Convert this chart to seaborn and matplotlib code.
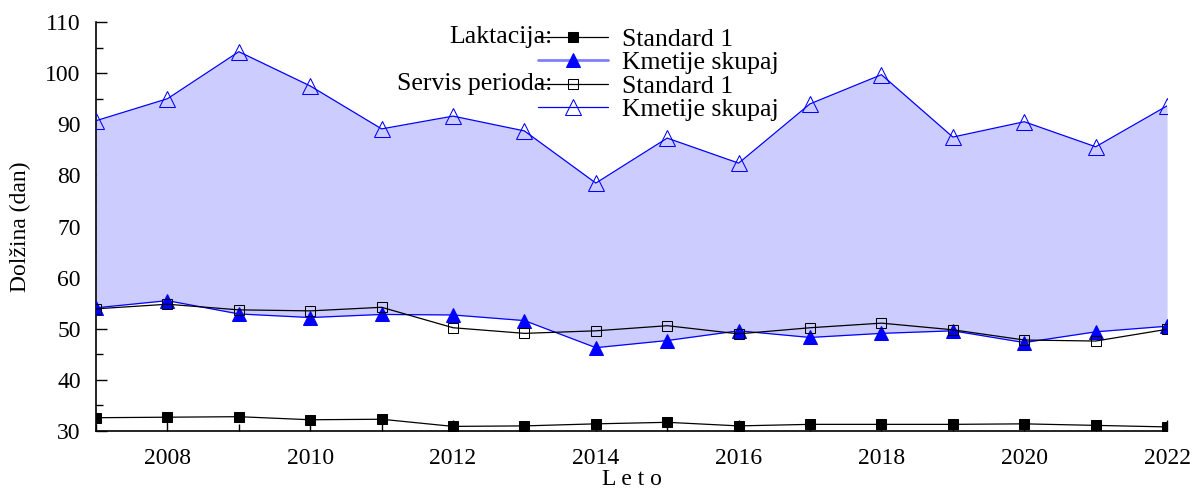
import matplotlib
matplotlib.use("Agg")
import matplotlib.pyplot as plt
from matplotlib.ticker import MultipleLocator
import seaborn as sns
import pandas as pd

years = list(range(2007, 2023))
lakt_standard = [32.6, 32.7, 32.8, 32.2, 32.3, 30.9, 31.0, 31.4, 31.7, 31.0, 31.3, 31.3, 31.3, 31.4, 31.1, 30.8]
lakt_kmetije = [54.1, 55.5, 52.9, 52.2, 52.8, 52.7, 51.6, 46.3, 47.7, 49.6, 48.3, 49.1, 49.6, 47.3, 49.4, 50.5]
servis_standard = [53.9, 54.8, 53.7, 53.5, 54.2, 50.2, 49.1, 49.6, 50.6, 49.0, 50.2, 51.1, 49.8, 47.8, 47.6, 49.9]
servis_kmetije = [90.7, 95.0, 104.2, 97.5, 89.1, 91.6, 88.7, 78.5, 87.3, 82.4, 94.0, 99.7, 87.5, 90.5, 85.6, 93.6]

df = pd.DataFrame({
    "leto": years,
    "lakt_standard": lakt_standard,
    "lakt_kmetije": lakt_kmetije,
    "servis_standard": servis_standard,
    "servis_kmetije": servis_kmetije,
})

sns.set_style("ticks")
plt.rcParams["font.family"] = ["Liberation Serif", "DejaVu Serif"]
plt.rcParams["font.size"] = 17
plt.rcParams["text.color"] = "black"
plt.rcParams["axes.labelcolor"] = "black"
plt.rcParams["xtick.color"] = "black"
plt.rcParams["ytick.color"] = "black"
plt.rcParams["axes.edgecolor"] = "black"

fig = plt.figure(figsize=(11.96, 4.9), dpi=100)
ax = fig.add_axes([0.0803, 0.1204, 0.8955, 0.8346])

ax.fill_between(df["leto"], df["lakt_kmetije"], df["servis_kmetije"],
                color="#ccccff", linewidth=0, zorder=1)

sns.lineplot(data=df, x="leto", y="lakt_standard", ax=ax, color="black", lw=0.9,
             marker="s", markersize=7, markerfacecolor="black", markeredgecolor="black",
             label="Standard 1", zorder=4)
sns.lineplot(data=df, x="leto", y="lakt_kmetije", ax=ax, color="blue", lw=0.9,
             marker="^", markersize=10, markerfacecolor="blue", markeredgecolor="blue",
             label="Kmetije skupaj", zorder=4)
sns.lineplot(data=df, x="leto", y="servis_standard", ax=ax, color="black", lw=0.9,
             marker="s", markersize=7, markerfacecolor="none", markeredgecolor="black",
             label="Standard 1", zorder=5)
sns.lineplot(data=df, x="leto", y="servis_kmetije", ax=ax, color="blue", lw=0.9,
             marker="^", markersize=11, markerfacecolor="none", markeredgecolor="blue",
             label="Kmetije skupaj", zorder=5)

ax.set_xlim(2007, 2022)
ax.set_ylim(30, 110)
ax.xaxis.set_major_locator(MultipleLocator(2))
ax.xaxis.set_minor_locator(MultipleLocator(1))
ax.yaxis.set_major_locator(MultipleLocator(10))
ax.yaxis.set_minor_locator(MultipleLocator(5))
ax.tick_params(which="major", direction="in", length=8, width=1, labelsize=17)
ax.tick_params(which="minor", direction="in", length=5, width=1)
ax.tick_params(axis="y", which="major", pad=11)
ax.tick_params(axis="x", which="major", pad=12)
ax.grid(which="both", axis="x", color="white", lw=0.6, alpha=0.6)

for s in ["top", "right"]:
    ax.spines[s].set_visible(False)
for s in ["left", "bottom"]:
    ax.spines[s].set_linewidth(1.2)

ax.set_xlabel("L e t o", fontsize=17, labelpad=0)
ax.set_ylabel("Dolžina (dan)", fontsize=17, labelpad=10)

leg = ax.legend(loc="upper left", bbox_to_anchor=(0.45, 0.943), bbox_transform=fig.transFigure,
                frameon=False, fontsize=18.5, handlelength=2.7, handletextpad=0.55,
                labelspacing=0.02, borderpad=0, borderaxespad=0)
lines = leg.get_lines()
lines[1].set_color("#7f7fff")
lines[1].set_linewidth(2)
lines[1].set_markerfacecolor("blue")
lines[1].set_markeredgecolor("blue")

fig.text(0.462, 1 - 37 / 490, "Laktacija:", ha="right", va="center", fontsize=18.5)
fig.text(0.462, 1 - 84 / 490, "Servis perioda:", ha="right", va="center", fontsize=18.5)

fig.savefig("out.png", dpi=100)
